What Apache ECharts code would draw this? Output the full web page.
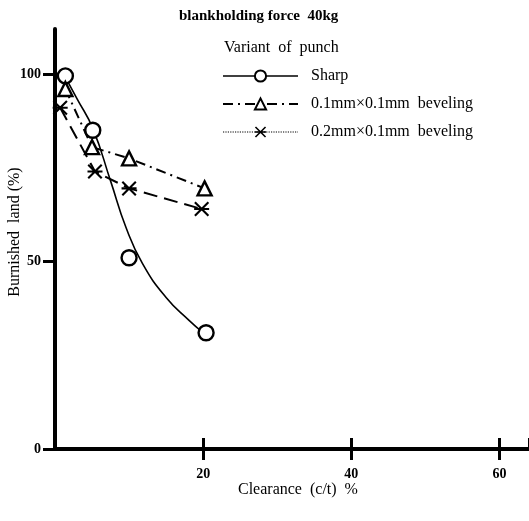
<!DOCTYPE html>
<html>
<head>
<meta charset="utf-8">
<script src="https://cdn.jsdelivr.net/npm/echarts@6/dist/echarts.min.js"></script>
<style>html,body{margin:0;padding:0;background:#fff;}#c{width:529px;height:521px;}</style>
</head>
<body>
<div id="c"></div>
<script>
var seriesNames = ['Sharp', '0.1mm×0.1mm  beveling', '0.2mm×0.1mm  beveling'];
var yAxisName = 'Burnished  land (%)';
// measured points
var sharpX = [1.4, 5.1, 10, 20.4];
var sharpY = [99.5, 85, 51, 31];
// drawn trend curve for "Sharp"
var sharpCurveX = [1.3, 3, 5.1, 7.5, 9.6, 11.8, 15, 18.1, 20];
var sharpCurveY = [99.5, 93.3, 85.5, 71.5, 59, 49.5, 40.4, 34.3, 31];
var bevel1X = [1.4, 5, 10, 20.2];
var bevel1Y = [96, 80.5, 77.5, 69.5];
var bevel2X = [0.7, 5.4, 10, 19.8];
var bevel2Y = [91, 74, 69.5, 64];
var xTicks = [20, 40, 60];
var yTicks = [0, 50, 100];

function pairs(xs, ys) { return xs.map(function (x, i) { return [x, ys[i]]; }); }

var starPath = 'path://M0,1 L1,0 L10,9 L9,10 Z M9,0 L10,1 L1,10 L0,9 Z M0,4.3 L10,4.3 L10,5.7 L0,5.7 Z';
var serif = '"Liberation Serif", "DejaVu Serif", serif';

var chart = echarts.init(document.getElementById('c'), null, { renderer: 'canvas' });
chart.setOption({
  backgroundColor: '#fff',
  animation: false,
  title: [
    { text: 'blankholding force  40kg', left: 174, top: 4,
      textStyle: { fontFamily: serif, fontSize: 15, fontWeight: 'bold', color: '#000' } },
    { text: 'Variant  of  punch', left: 219, top: 35,
      textStyle: { fontFamily: serif, fontSize: 16, fontWeight: 'normal', color: '#000' } },
    { text: 'Clearance  (c/t)  %', left: 233, top: 477,
      textStyle: { fontFamily: serif, fontSize: 16, fontWeight: 'normal', color: '#000' } }
  ],
  graphic: [
    { type: 'text', x: 15, y: 232, rotation: Math.PI / 2,
      style: { text: yAxisName, fontFamily: serif, fontSize: 16, fill: '#000',
        align: 'center', verticalAlign: 'middle' } }
  ],
  legend: {
    orient: 'vertical', left: 217, top: 63, itemWidth: 75, itemHeight: 14, itemGap: 12,
    textStyle: { fontFamily: serif, fontSize: 16, color: '#000', padding: [0, 0, 0, 8] },
    data: [
      { name: seriesNames[0], lineStyle: { opacity: 1, width: 1.6, color: '#000' } },
      { name: seriesNames[1] },
      { name: seriesNames[2], lineStyle: { type: 'dotted', width: 1.2 } }
    ]
  },
  grid: { left: 55, right: 0, top: 29, bottom: 72, containLabel: false, outerBoundsMode: 'none' },
  xAxis: [
    { type: 'value', min: 0, max: 64, interval: 20,
      axisLine: { show: true, onZero: false, lineStyle: { color: '#000', width: 4 } },
      axisTick: { show: true, inside: false, length: 11, lineStyle: { color: '#000', width: 3 } },
      axisLabel: { showMinLabel: false, showMaxLabel: false, margin: 18, color: '#000',
        fontFamily: serif, fontSize: 14, fontWeight: 'bold' },
      splitLine: { show: false } },
    { type: 'value', min: 0, max: 64, interval: 20, position: 'bottom',
      axisLine: { show: false },
      axisTick: { show: true, inside: true, length: 11, lineStyle: { color: '#000', width: 3 } },
      axisLabel: { show: false }, splitLine: { show: false } }
  ],
  yAxis: {
    type: 'value', min: 0, max: 112, interval: 50,
    axisLine: { show: true, lineStyle: { color: '#000', width: 4 } },
    axisTick: { show: true, length: 12, lineStyle: { color: '#000', width: 3 } },
    axisLabel: { showMaxLabel: false, margin: 14, color: '#000', fontFamily: serif, fontSize: 14, fontWeight: 'bold' },
    splitLine: { show: false }
  },
  series: [
    { name: 'Sharp curve', type: 'line', smooth: 0.5, data: pairs(sharpCurveX, sharpCurveY),
      showSymbol: false, symbol: 'none', silent: true,
      lineStyle: { color: '#000', width: 1.6 }, z: 1 },
    { name: seriesNames[0], type: 'line', data: pairs(sharpX, sharpY),
      symbol: 'circle', symbolSize: 15, z: 3,
      lineStyle: { color: '#000', width: 1.6, opacity: 0 },
      itemStyle: { color: '#fff', borderColor: '#000', borderWidth: 2.4 } },
    { name: seriesNames[1], type: 'line', data: pairs(bevel1X, bevel1Y),
      symbol: 'triangle', symbolSize: 14,
      lineStyle: { color: '#000', width: 2, type: [10, 5, 2, 5] },
      itemStyle: { color: '#fff', borderColor: '#000', borderWidth: 2.4 } },
    { name: seriesNames[2], type: 'line', data: pairs(bevel2X, bevel2Y),
      symbol: starPath, symbolSize: 15,
      lineStyle: { color: '#000', width: 2, type: [14, 7] },
      itemStyle: { color: '#000', borderWidth: 0 } }
  ]
});
</script>
</body>
</html>
